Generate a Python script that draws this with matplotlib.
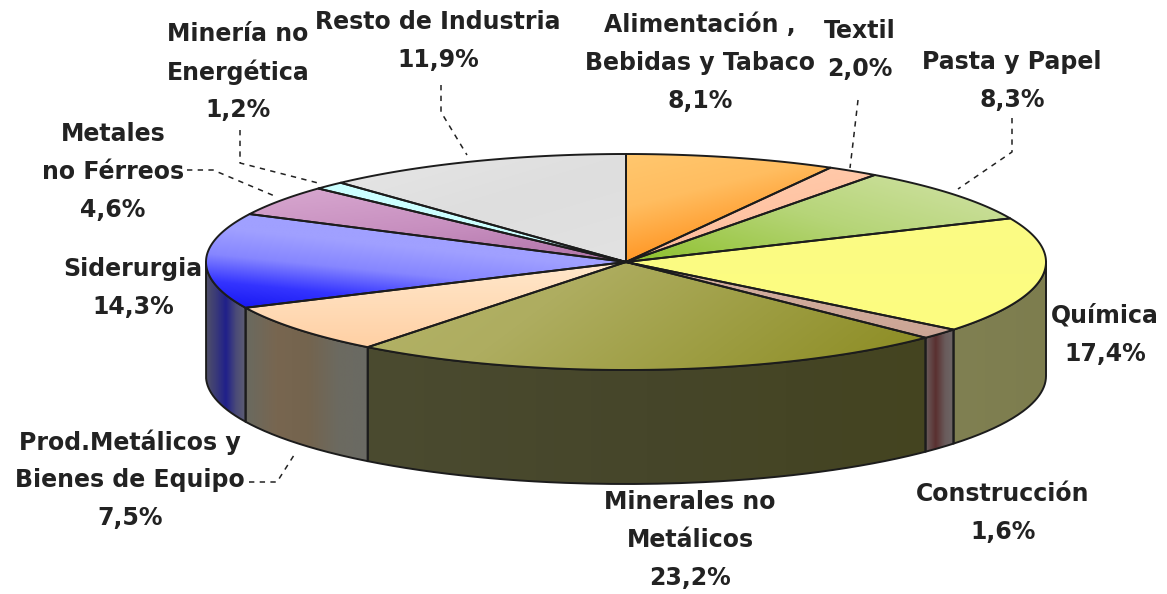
import numpy as np
import matplotlib
matplotlib.use("Agg")
import matplotlib.pyplot as plt
from matplotlib.colors import to_rgb
from matplotlib.patches import PathPatch
from matplotlib.path import Path

# slices, clockwise from 12 o'clock
names = ["Alimentación", "Textil", "Pasta y Papel", "Química", "Construcción",
         "Minerales no Metálicos", "Prod.Metálicos y Bienes de Equipo", "Siderurgia",
         "Metales no Férreos", "Minería no Energética", "Resto de Industria"]
values = [8.1, 2.0, 8.3, 17.4, 1.6, 23.2, 7.5, 14.3, 4.6, 1.2, 11.9]

label_lines = [["Alimentación ,", "Bebidas y Tabaco", "8,1%"], ["Textil", "2,0%"],
               ["Pasta y Papel", "8,3%"], ["Química", "17,4%"], ["Construcción", "1,6%"],
               ["Minerales no", "Metálicos", "23,2%"],
               ["Prod.Metálicos y", "Bienes de Equipo", "7,5%"], ["Siderurgia", "14,3%"],
               ["Metales", "no Férreos", "4,6%"], ["Minería no", "Energética", "1,2%"],
               ["Resto de Industria", "11,9%"]]

# label centre x and first line y, in image pixels
label_x = [700, 860, 1012, 1105, 1003, 690, 130, 133, 113, 238, 438]
label_y = [24, 30, 61, 315, 493, 501, 441, 268, 133, 33, 21]
line_step = 38

# top face gradients: direction, colour stops
top_dirs = [(0.25, 1), (0.2, 1), (0.3, -1), (0, 1), (0, 1), (0.6, 0.8), (0, 1), (-0.1, 1),
            (0.1, 1), (0, 1), (0.3, 1)]
top_cols = [["#ffc76e", "#ffbd60", "#ff9a2a", "#ff8c10"], ["#ffd0b0", "#ffc4a4", "#f79a78"],
            ["#8dc02c", "#b6d578", "#d3e3a8"], ["#fbfb84", "#fdfd80"], ["#d6b0a0", "#cba595"],
            ["#b4b468", "#aead60", "#9c9c40", "#8b8b20"], ["#ffe8cc", "#ffdcb8", "#ffd0a4"],
            ["#a6a6ff", "#a0a0ff", "#a0a0ff", "#8686ff", "#3434ff", "#1414f0"],
            ["#d8a8d0", "#c890c0", "#b072a8"], ["#ccffff", "#ccffff"],
            ["#e6e6e6", "#dedede", "#e2e2e2"]]

# side wall gradients, left to right
side_cols = [["#808052"], ["#808052"], ["#808052"], ["#808052", "#7d7d4e"],
             ["#6a5c5c", "#5a3030", "#6a5c5c", "#6e6868"],
             ["#4b4b30", "#46462a", "#444420"],
             ["#6a6a60", "#786650", "#74644e", "#6c6a60", "#6a6a64"],
             ["#505068", "#3a3a78", "#20208a", "#4a4a78", "#5e5e72"],
             ["#555555"], ["#555555"], ["#555555"]]

cx, cy = 626, 262
rx, ry = 420, 108
depth = 114
edge = "#1c1c1c"


def rim(a):
    return cx + rx * np.sin(a), cy - ry * np.cos(a)


def gradient_fill(ax, xs, ys, cols, direction, zorder):
    verts = np.column_stack([xs, ys])
    patch = PathPatch(Path(np.vstack([verts, verts[0]])), fc="none", ec="none", transform=ax.transData)
    ax.add_patch(patch)
    x0, x1, y0, y1 = xs.min(), xs.max(), ys.min(), ys.max()
    gx, gy = np.meshgrid(np.linspace(x0, x1, 300), np.linspace(y0, y1, 200))
    t = gx * direction[0] + gy * direction[1]
    t = (t - t.min()) / max(t.max() - t.min(), 1e-6)
    rgb = [to_rgb(c) for c in cols] * (2 if len(cols) == 1 else 1)
    stops = np.linspace(0, 1, len(rgb))
    img = np.dstack([np.interp(t, stops, [c[i] for c in rgb]) for i in range(3)])
    im = ax.imshow(img, extent=(x0, x1, y1, y0), origin="upper", aspect="auto", zorder=zorder)
    im.set_clip_path(patch)


fig, ax = plt.subplots(figsize=(11.67, 5.94), dpi=100)
fig.subplots_adjust(0, 0, 1, 1)
ax.axis("off")

angles = np.concatenate([[0], np.cumsum(values)]) / np.sum(values) * 2 * np.pi

# side walls, only the part facing front
for i in range(len(values)):
    a0 = max(angles[i], np.pi / 2)
    a1 = min(angles[i + 1], 3 * np.pi / 2)
    if a1 <= a0:
        continue
    a = np.linspace(a0, a1, 80)
    x, y = rim(a)
    xs = np.concatenate([x, x[::-1]])
    ys = np.concatenate([y, y[::-1] + depth])
    gradient_fill(ax, xs, ys, side_cols[i], (1, 0), 2)
    ax.plot(np.append(xs, xs[0]), np.append(ys, ys[0]), color=edge, lw=1.4, zorder=3)

# top faces
for i in range(len(values)):
    a = np.linspace(angles[i], angles[i + 1], 80)
    x, y = rim(a)
    xs = np.concatenate([[cx], x])
    ys = np.concatenate([[cy], y])
    gradient_fill(ax, xs, ys, top_cols[i], top_dirs[i], 4)
    ax.plot(np.append(xs, cx), np.append(ys, cy), color=edge, lw=1.4, zorder=5)

# leader lines
leaders = [[(858, 100), (853, 143), (850, 168)], [(1012, 118), (1012, 152), (958, 189)],
           [(249, 482), (277, 482), (296, 452)], [(187, 170), (213, 170), (277, 197)],
           [(240, 130), (240, 163), (322, 184)], [(441, 85), (441, 112), (467, 155)]]
for pts in leaders:
    ax.plot([p[0] for p in pts], [p[1] for p in pts], color="#222222", lw=1.1,
            dashes=(3.5, 3.5), zorder=3)

for lines, lx, ly in zip(label_lines, label_x, label_y):
    for j, line in enumerate(lines):
        ax.text(lx, ly + j * line_step + 1, line, ha="center", va="center", fontsize=17,
                family="DejaVu Sans", fontweight="bold", color="#222222", zorder=6)

ax.set_xlim(0, 1167)
ax.set_ylim(594, 0)
fig.savefig("out.png", dpi=100, facecolor="white")
